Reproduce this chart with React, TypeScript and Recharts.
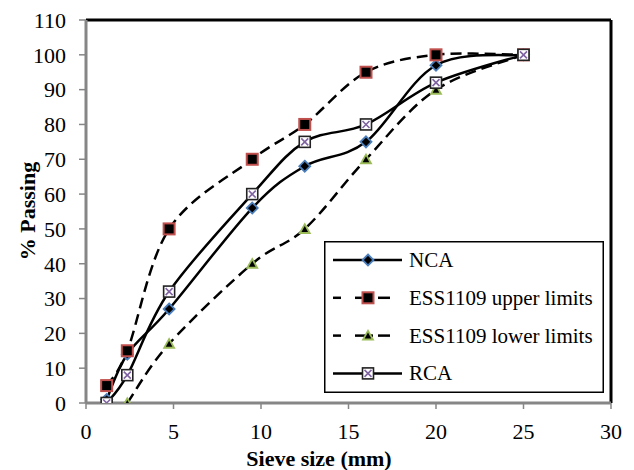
import React from 'react';
import { LineChart, Line, XAxis, YAxis, ReferenceLine, Legend, Label } from 'recharts';

const sieveSizes = [1.18, 2.36, 4.75, 9.5, 12.5, 16, 20, 25];
const ncaPassing = [1, 14, 27, 56, 68, 75, 97, 100];
const upperLimits = [5, 15, 50, 70, 80, 95, 100, 100];
const lowerSizes = [2.36, 4.75, 9.5, 12.5, 16, 20, 25];
const lowerLimits = [0, 17, 40, 50, 70, 90, 100];
const rcaPassing = [0, 8, 32, 60, 75, 80, 92, 100];

const xTicks = [0, 5, 10, 15, 20, 25, 30];
const yTicks = [0, 10, 20, 30, 40, 50, 60, 70, 80, 90, 100, 110];

const seriesNames = ['NCA', 'ESS1109 upper limits', 'ESS1109 lower limits', 'RCA'];

const FONT = '"Liberation Serif", "Times New Roman", serif';
const AXIS_GRAY = '#868686';

const toPoints = (xs: number[], ys: number[]) => xs.map((x, i) => ({ x, y: ys[i] }));

const ncaData = toPoints(sieveSizes, ncaPassing);
const upperData = toPoints(sieveSizes, upperLimits);
const lowerData = toPoints(lowerSizes, lowerLimits);
const rcaData = toPoints(sieveSizes, rcaPassing);

// Excel-like smoothing (Catmull-Rom as cubic Bezier)
const excelSmooth: any = (context: any) => {
  let pts: number[][] = [];
  return {
    areaStart() {},
    areaEnd() {},
    lineStart() {
      pts = [];
    },
    point(x: number, y: number) {
      pts.push([+x, +y]);
    },
    lineEnd() {
      if (!pts.length) return;
      context.moveTo(pts[0][0], pts[0][1]);
      for (let i = 0; i < pts.length - 1; i++) {
        const p0 = pts[i - 1] || pts[i];
        const p1 = pts[i];
        const p2 = pts[i + 1];
        const p3 = pts[i + 2] || p2;
        const c1x = p1[0] + (p2[0] - p0[0]) / 6;
        const c1y = p1[1] + (p2[1] - p0[1]) / 6;
        const c2x = p2[0] - (p3[0] - p1[0]) / 6;
        const c2y = p2[1] - (p3[1] - p1[1]) / 6;
        context.bezierCurveTo(c1x, c1y, c2x, c2y, p2[0], p2[1]);
      }
    },
  };
};

const Marker = ({ kind, cx, cy }: { kind: number; cx: number; cy: number }) => {
  if (cx == null || cy == null || isNaN(cx) || isNaN(cy)) return null;
  if (kind === 0) {
    const r = 5.5;
    return (
      <path
        d={`M${cx},${cy - r}L${cx + r},${cy}L${cx},${cy + r}L${cx - r},${cy}Z`}
        fill="#000"
        stroke="#4A7EBB"
        strokeWidth={1.8}
      />
    );
  }
  if (kind === 1) {
    const h = 5.5;
    return <rect x={cx - h} y={cy - h} width={2 * h} height={2 * h} fill="#000" stroke="#C0504D" strokeWidth={2} />;
  }
  if (kind === 2) {
    return (
      <g>
        <path d={`M${cx},${cy - 6.5}L${cx + 6.5},${cy + 5}L${cx - 6.5},${cy + 5}Z`} fill="#9BBB59" />
        <path d={`M${cx},${cy - 3}L${cx + 3.3},${cy + 3}L${cx - 3.3},${cy + 3}Z`} fill="#000" />
      </g>
    );
  }
  const h = 5.5;
  return (
    <g>
      <rect x={cx - h} y={cy - h} width={2 * h} height={2 * h} fill="#fff" stroke="#222" strokeWidth={1.6} />
      <path
        d={`M${cx - 3.5},${cy - 3.5}L${cx + 3.5},${cy + 3.5}M${cx + 3.5},${cy - 3.5}L${cx - 3.5},${cy + 3.5}`}
        stroke="#8064A2"
        strokeWidth={1.6}
      />
    </g>
  );
};

const makeDot = (kind: number) => (p: any) => (
  <g key={`dot-${kind}-${p.index}`}>
    <Marker kind={kind} cx={p.cx} cy={p.cy} />
  </g>
);

const LegendBox = () => (
  <svg width={280} height={152} style={{ display: 'block' }}>
    <rect x={0.75} y={0.75} width={278.5} height={150.5} fill="#fff" stroke="#000" strokeWidth={1.5} />
    {seriesNames.map((name, i) => {
      const yc = 19 + i * 37.8;
      const dashed = i === 1 || i === 2;
      return (
        <g key={name}>
          {dashed ? (
            <g stroke="#000" strokeWidth={2.5}>
              <line x1={9} y1={yc} x2={17} y2={yc} />
              <line x1={31} y1={yc} x2={49} y2={yc} />
              <line x1={54} y1={yc} x2={66} y2={yc} />
            </g>
          ) : (
            <line x1={9} y1={yc} x2={78} y2={yc} stroke="#000" strokeWidth={2.5} />
          )}
          <Marker kind={i} cx={44} cy={yc} />
          <text x={85} y={yc + 7} fontFamily={FONT} fontSize={21} fill="#000">
            {name}
          </text>
        </g>
      );
    })}
  </svg>
);

const tickStyle = { fontFamily: FONT, fontSize: 22, fill: '#000' };

export default function App() {
  return (
    <div style={{ position: 'absolute', left: 0, top: 0, width: 634, height: 470, background: '#fff' }}>
      <LineChart width={634} height={470} margin={{ top: 20, right: 23, bottom: 0, left: 0 }}>
        <XAxis
          type="number"
          dataKey="x"
          domain={[0, 30]}
          ticks={xTicks}
          height={67}
          tick={tickStyle}
          tickSize={6}
          tickMargin={14}
          axisLine={{ stroke: AXIS_GRAY, strokeWidth: 3 }}
          tickLine={{ stroke: AXIS_GRAY, strokeWidth: 1.5 }}
          allowDataOverflow
        >
          <Label
            content={() => (
              <text x={319} y={466} textAnchor="middle" fontFamily={FONT} fontSize={22} fontWeight="bold" fill="#000">
                Sieve size (mm)
              </text>
            )}
          />
        </XAxis>
        <YAxis
          type="number"
          domain={[0, 110]}
          ticks={yTicks}
          width={86}
          tick={tickStyle}
          tickSize={7}
          tickMargin={13}
          axisLine={{ stroke: AXIS_GRAY, strokeWidth: 3 }}
          tickLine={{ stroke: AXIS_GRAY, strokeWidth: 1.5 }}
          allowDataOverflow
        >
          <Label
            content={() => (
              <text
                x={27}
                y={211}
                transform="rotate(-90, 27, 211)"
                textAnchor="middle"
                dominantBaseline="central"
                fontFamily={FONT}
                fontSize={22}
                fontWeight="bold"
                fill="#000"
              >
                % Passing
              </text>
            )}
          />
        </YAxis>
        <ReferenceLine y={110} stroke="#000" strokeWidth={3} />
        <ReferenceLine x={30} stroke="#000" strokeWidth={3} />
        <Line
          data={ncaData}
          dataKey="y"
          name={seriesNames[0]}
          type={excelSmooth}
          stroke="#000"
          strokeWidth={2.5}
          dot={makeDot(0)}
          activeDot={false}
          isAnimationActive={false}
        />
        <Line
          data={upperData}
          dataKey="y"
          name={seriesNames[1]}
          type={excelSmooth}
          stroke="#000"
          strokeWidth={2.5}
          strokeDasharray="11 6"
          dot={makeDot(1)}
          activeDot={false}
          isAnimationActive={false}
        />
        <Line
          data={lowerData}
          dataKey="y"
          name={seriesNames[2]}
          type={excelSmooth}
          stroke="#000"
          strokeWidth={2.5}
          strokeDasharray="11 6"
          dot={makeDot(2)}
          activeDot={false}
          isAnimationActive={false}
        />
        <Line
          data={rcaData}
          dataKey="y"
          name={seriesNames[3]}
          type={excelSmooth}
          stroke="#000"
          strokeWidth={2.5}
          dot={makeDot(3)}
          activeDot={false}
          isAnimationActive={false}
        />
        <Legend
          layout="vertical"
          align="center"
          verticalAlign="middle"
          wrapperStyle={{ left: 324, top: 241, width: 280, height: 152 }}
          content={() => <LegendBox />}
        />
      </LineChart>
    </div>
  );
}
